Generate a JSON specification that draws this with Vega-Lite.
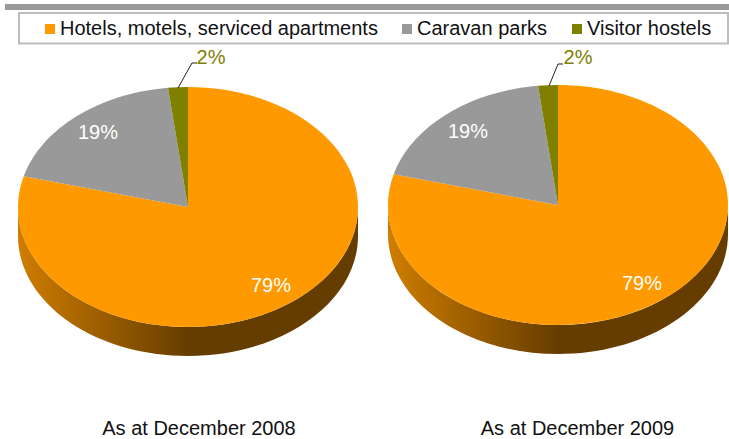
{
"$schema":"https://vega.github.io/schema/vega-lite/v6.json",
"width":729,"height":439,"padding":0,"autosize":{"type":"none"},
"background":"white",
"config":{"view":{"stroke":null},"font":"Liberation Sans"},
"data":{"values":[
{"period":"As at December 2008","slice":"Hotels, motels, serviced apartments","share":0.79},
{"period":"As at December 2008","slice":"Caravan parks","share":0.19},
{"period":"As at December 2008","slice":"Visitor hostels","share":0.02},
{"period":"As at December 2009","slice":"Hotels, motels, serviced apartments","share":0.79},
{"period":"As at December 2009","slice":"Caravan parks","share":0.19},
{"period":"As at December 2009","slice":"Visitor hostels","share":0.02}
]},
"resolve":{"scale":{"x":"independent","y":"independent","shape":"independent"}},
"layer":[
{"data":{"values":[{"x0":0,"x1":1,"y0":0,"y1":1}]},
 "mark":{"type":"rect","color":"#999999"},
 "encoding":{
  "x":{"field":"x0","type":"quantitative","axis":null,"scale":{"domain":[0,1],"range":[5,729]}},
  "x2":{"field":"x1"},
  "y":{"field":"y0","type":"quantitative","axis":null,"scale":{"domain":[0,1],"range":[4,10]}},
  "y2":{"field":"y1"}}},
{"data":{"values":[{"x0":0,"x1":1,"y0":0,"y1":1}]},
 "mark":{"type":"rect","fill":null,"stroke":"#bdbdbd","strokeWidth":2},
 "encoding":{
  "x":{"field":"x0","type":"quantitative","axis":null,"scale":{"domain":[0,1],"range":[19,728]}},
  "x2":{"field":"x1"},
  "y":{"field":"y0","type":"quantitative","axis":null,"scale":{"domain":[0,1],"range":[13,43.5]}},
  "y2":{"field":"y1"}}},
{"transform":[{"filter":"datum.slice==='Hotels, motels, serviced apartments'"}],
 "mark":{"type":"point","filled":true,"opacity":1,"size":4,"strokeWidth":0,
  "fill":{"gradient":"linear","x1":0,"y1":0,"x2":1,"y2":0,"stops":[{"offset":0,"color":"#cf7d00"},{"offset":0.5,"color":"#663d00"},{"offset":1,"color":"#663d00"}]},
  "shape":"M-170,0A170,120 0 0 0 170,0L170,29A170,120 0 0 1 -170,29Z"},
 "encoding":{
  "x":{"field":"period","type":"nominal","axis":null,"scale":{"type":"point","padding":0,"domain":["As at December 2008","As at December 2009"],"range":[188,558]}},
  "y":{"field":"period","type":"nominal","axis":null,"scale":{"type":"point","padding":0,"domain":["As at December 2008","As at December 2009"],"range":[207,205]}}}},
{"mark":{"type":"point","filled":true,"opacity":1,"size":4,"strokeWidth":0},
 "encoding":{
  "x":{"field":"period","type":"nominal","axis":null,"scale":{"type":"point","padding":0,"domain":["As at December 2008","As at December 2009"],"range":[188,558]}},
  "y":{"field":"period","type":"nominal","axis":null,"scale":{"type":"point","padding":0,"domain":["As at December 2008","As at December 2009"],"range":[207,205]}},
  "shape":{"field":"slice","type":"nominal","legend":null,"scale":{"domain":["Hotels, motels, serviced apartments","Caravan parks","Visitor hostels"],"range":["M0,0L0,-120A170,120 0 1 1 -164.3,-30.8Z","M0,0L-164.3,-30.8A170,120 0 0 1 -20,-119.17Z","M0,0L-20,-119.17A170,120 0 0 1 0,-120Z"]}},
  "color":{"field":"slice","type":"nominal",
   "scale":{"domain":["Hotels, motels, serviced apartments","Caravan parks","Visitor hostels"],"range":["#ff9900","#999999","#808000"]},
   "legend":{"orient":"none","legendX":40,"legendY":19,"direction":"horizontal","columns":3,"title":null,"symbolType":"square","symbolSize":100,"symbolOpacity":1,"symbolStrokeWidth":0,"labelFontSize":20,"labelFont":"Liberation Sans","labelColor":"#111111","labelOffset":0,"labelLimit":400,"columnPadding":19,"padding":0,"zindex":1}}}},
{"transform":[{"filter":"datum.slice==='Visitor hostels'"}],
 "mark":{"type":"point","filled":false,"opacity":1,"size":4,"stroke":"#222222","strokeWidth":1,"fill":null},
 "encoding":{
  "x":{"field":"period","type":"nominal","axis":null,"scale":{"type":"point","padding":0,"domain":["As at December 2008","As at December 2009"],"range":[188,558]}},
  "y":{"field":"period","type":"nominal","axis":null,"scale":{"type":"point","padding":0,"domain":["As at December 2008","As at December 2009"],"range":[207,205]}},
  "shape":{"field":"period","type":"nominal","legend":null,"scale":{"domain":["As at December 2008","As at December 2009"],"range":["M-10,-119L4,-144L9,-144","M-9,-119L0,-141L5,-141"]}}}},
{"transform":[{"filter":"datum.slice==='Hotels, motels, serviced apartments'"}],
 "mark":{"type":"text","fontSize":20,"font":"Liberation Sans","color":"white","baseline":"middle"},
 "encoding":{
  "x":{"field":"period","type":"nominal","axis":null,"scale":{"type":"point","padding":0,"domain":["As at December 2008","As at December 2009"],"range":[271,642]}},
  "y":{"field":"period","type":"nominal","axis":null,"scale":{"type":"point","padding":0,"domain":["As at December 2008","As at December 2009"],"range":[286,284]}},
  "text":{"field":"share","type":"quantitative","format":".0%"}}},
{"transform":[{"filter":"datum.slice==='Caravan parks'"}],
 "mark":{"type":"text","fontSize":20,"font":"Liberation Sans","color":"white","baseline":"middle"},
 "encoding":{
  "x":{"field":"period","type":"nominal","axis":null,"scale":{"type":"point","padding":0,"domain":["As at December 2008","As at December 2009"],"range":[98,468]}},
  "y":{"field":"period","type":"nominal","axis":null,"scale":{"type":"point","padding":0,"domain":["As at December 2008","As at December 2009"],"range":[133,132]}},
  "text":{"field":"share","type":"quantitative","format":".0%"}}},
{"transform":[{"filter":"datum.slice==='Visitor hostels'"}],
 "mark":{"type":"text","fontSize":20,"font":"Liberation Sans","color":"#808000","baseline":"middle"},
 "encoding":{
  "x":{"field":"period","type":"nominal","axis":null,"scale":{"type":"point","padding":0,"domain":["As at December 2008","As at December 2009"],"range":[211,578]}},
  "y":{"field":"period","type":"nominal","axis":null,"scale":{"type":"point","padding":0,"domain":["As at December 2008","As at December 2009"],"range":[58,58]}},
  "text":{"field":"share","type":"quantitative","format":".0%"}}},
{"transform":[{"filter":"datum.slice==='Visitor hostels'"}],
 "mark":{"type":"text","fontSize":20,"font":"Liberation Sans","color":"#111111","baseline":"middle"},
 "encoding":{
  "x":{"field":"period","type":"nominal","axis":null,"scale":{"type":"point","padding":0,"domain":["As at December 2008","As at December 2009"],"range":[199,577.5]}},
  "y":{"field":"period","type":"nominal","axis":null,"scale":{"type":"point","padding":0,"domain":["As at December 2008","As at December 2009"],"range":[429,429]}},
  "text":{"field":"period","type":"nominal"}}}
]}
